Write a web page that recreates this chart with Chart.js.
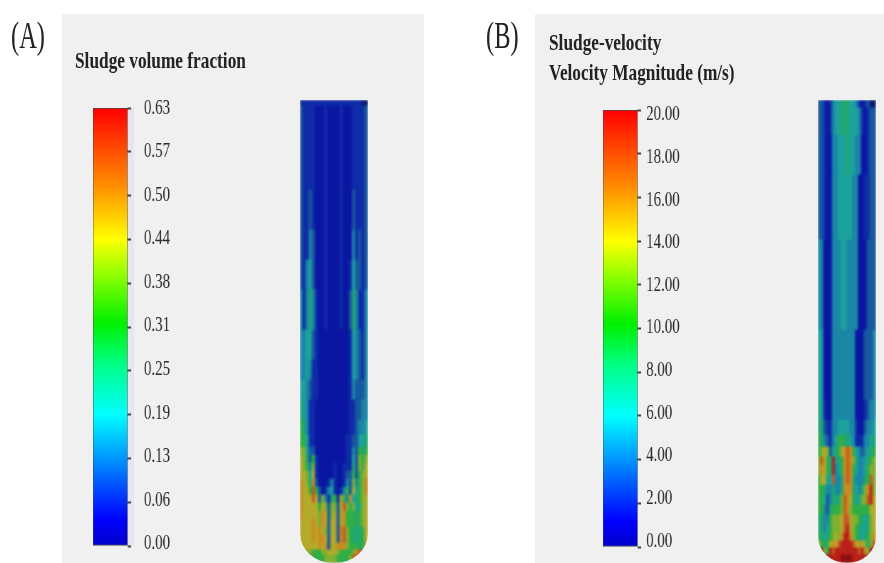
<!DOCTYPE html>
<html>
<head>
<meta charset="utf-8">
<style>
  html, body { margin: 0; background: #fff; overflow: hidden; }
  body { position: relative; width: 884px; height: 563px; }
  .panel { position: absolute; top: 14px; height: 549px; background: #f0f0f0; }
  .lab {
    position: absolute; white-space: nowrap; color: #222; line-height: 1;
    font-family: 'Liberation Serif', serif; transform-origin: 0 0; filter: blur(.35px);
  }
  .lab.b { font-weight: bold; }
  .bar-box { position: absolute; top: 90px; height: 480px; transform-origin: 0 0; transform: scaleX(.71); filter: blur(.35px); }
  .tube { position: absolute; top: 100px; height: 463px; overflow: hidden; border-radius: 0 0 33px 33px / 0 0 30px 30px; }
  .tube canvas { filter: blur(1.3px); }
  .shade { position: absolute; left: 128px; top: 108px; width: 6px; height: 438px; background: #e4e6f1; }
</style>
</head>
<body>
<div class="panel" style="left:62px;width:362px"></div>
<div class="panel" style="left:535px;width:349px"></div>
<div class="shade"></div>

<div class="lab" style="left:11px;top:17px;font-size:37px;transform:scaleX(.66)">(A)</div>
<div class="lab" style="left:486px;top:17px;font-size:37px;transform:scaleX(.66)">(B)</div>
<div class="lab b" style="left:75px;top:48px;font-size:24px;transform:scaleX(.72)">Sludge volume fraction</div>
<div class="lab b" style="left:549px;top:30px;font-size:24px;transform:scaleX(.72)">Sludge-velocity</div>
<div class="lab b" style="left:549px;top:60px;font-size:24px;transform:scaleX(.72)">Velocity Magnitude (m/s)</div>

<div class="bar-box" style="left:90px;width:141px"><canvas id="bar-a"></canvas></div>
<div class="bar-box" style="left:600px;width:141px"><canvas id="bar-b"></canvas></div>
<div class="tube" style="left:300px;width:68px"><canvas id="tube-a"></canvas></div>
<div class="tube" style="left:818px;width:58px"><canvas id="tube-b"></canvas></div>

<script src="https://cdn.jsdelivr.net/npm/chart.js@4.4.0/dist/chart.umd.min.js"></script>
<script>
/* ── Colour bar values ───────────────────────────────────────── */
const RANGE_A = [0, 0.63];
const TICKS_A = [0, 0.063, 0.126, 0.189, 0.252, 0.315, 0.378, 0.441, 0.504, 0.567, 0.63];
const LABELS_A = ['0.00', '0.06', '0.13', '0.19', '0.25', '0.31', '0.38', '0.44', '0.50', '0.57', '0.63'];

const RANGE_B = [0, 20];
const TICKS_B = [0, 2, 4, 6, 8, 10, 12, 14, 16, 18, 20];
const LABELS_B = ['0.00', '2.00', '4.00', '6.00', '8.00', '10.00', '12.00', '14.00', '16.00', '18.00', '20.00'];

/* the printed labels sit on a slightly tighter span than the tick marks */
const LABEL_SPAN_A = [-0.003, 0.63];
const LABEL_SPAN_B = [-0.28, 20.23];

const BAR_STOPS = [
  [0, '#0000c8'], [0.06, '#0000ff'], [0.3, '#00ffff'], [0.42, '#00ff80'], [0.51, '#00f000'],
  [0.62, '#90ff00'], [0.7, '#ffff00'], [0.82, '#ff9000'], [1, '#ff0000'],
];

/* ── Contour levels (one character per cell, key into LEVEL_COLORS) ── */
const LEVEL_COLORS = {
  0: '#0a16a2', 1: '#0f2ca8', 2: '#17589f', 3: '#1b86a6', 4: '#1ca29c', 5: '#20a670', 6: '#2fae45',
  7: '#7fb032', 8: '#b4aa2a', 9: '#cc8a22', a: '#c45a20', b: '#b8201a', c: '#8e1010', d: '#0a1a70',
};

/* cell edges, height above the tube bottom */
const EDGES_A = [463, 457, 373, 333, 303, 273, 233, 203, 183, 163, 143, 128, 116, 108, 100, 92, 84, 76, 68, 60, 52, 44, 36, 28, 20, 13, 8, 0];
const ROWS_A = [
  '11111111111111111111dd',
  '2111100010000100011112',
  '2112100010000100021112',
  '2113200010000100031212',
  '2134200010000100142212',
  '3135310010000100253113',
  '3344210000000000143213',
  '3343110000000000143213',
  '4432110000000000132223',
  '5431100000000000112233',
  '6531100000000000112334',
  '6641100000000001122445',
  '7742200000000001132656',
  '8752610000000001142767',
  '8763710000010011152768',
  '8874810000010012262678',
  '9875920001310013273679',
  '9886a62013410136284679',
  '9888a82731561863945678',
  '9888886872772' + '8a767457' + '8',
  '9888887982782' + '89666567' + '8',
  '8888987982882' + '89666567' + '8',
  '8888989872882' + '9a765556' + '8',
  '8888989982882' + '9a765556' + '8',
  '9888889892889' + '99766656' + '9',
  'a977666778887666679aaa',
  'aaaa6666777766667aaaaa',
];

const EDGES_B = [463, 455, 428, 388, 323, 233, 163, 143, 128, 116, 106, 98, 88, 78, 68, 58, 48, 38, 30, 22, 15, 8, 0];
const ROWS_B = [
  '221013445554431012dd',
  '22101344555444310122',
  '22100334445443300122',
  '22100334444433001122',
  '33000333443333000222',
  '44000333333330002223',
  '54100333333330001233',
  '55211334444331002334',
  '65321346655431113345',
  '6787245689a964323456',
  '7a865b4569a975334567',
  '79865b3469a964334677',
  '68844a3359a9533356a7',
  '665335335999543579b7',
  '664235557a9855477ab8',
  '663256667a9766666688',
  '553367778aa877654578',
  '553467778ab876544578',
  '654567879bb976545679',
  '8656898abbbba898757a',
  'cb76babbbbbbbbab97bc',
  'cccbbbbbccccbbbbbccc',
];

/* ── Colour bar chart ────────────────────────────────────────── */
function renderBar(id, range, ticks, labels, span, padTop, padBottom, labelPad) {
  new Chart(document.getElementById(id), {
    type: 'bar',
    data: {
      labels: [''],
      datasets: [{
        data: [range],
        yAxisID: 'y',
        barPercentage: 1,
        categoryPercentage: 1,
        borderColor: '#4a4a4a',
        borderWidth: 1,
        borderSkipped: false,
        backgroundColor: ctx => {
          const area = ctx.chart.chartArea;
          if (!area) return '#0000ff';
          const g = ctx.chart.ctx.createLinearGradient(0, area.bottom, 0, area.top);
          BAR_STOPS.forEach(([p, c]) => g.addColorStop(p, c));
          return g;
        },
      }],
    },
    options: {
      responsive: true,
      maintainAspectRatio: false,
      animation: false,
      layout: { padding: { left: 4, top: padTop, bottom: padBottom, right: 0 } },
      plugins: { legend: { display: false }, tooltip: { enabled: false } },
      scales: {
        x: { display: false },
        y: {
          position: 'right',
          bounds: 'data',
          min: range[0],
          max: range[1],
          afterBuildTicks: s => { s.ticks = ticks.map(v => ({ value: v })); },
          afterFit: s => { s.width = 5; s.paddingTop = 0; s.paddingBottom = 0; },
          border: { display: false },
          grid: { drawOnChartArea: false, drawTicks: true, tickLength: 5, color: '#444', tickWidth: 2 },
          ticks: { display: false },
        },
        y2: {
          position: 'right',
          bounds: 'data',
          min: span[0],
          max: span[1],
          afterBuildTicks: s => { s.ticks = ticks.map(v => ({ value: v })); },
          afterFit: s => { s.width = 83; s.paddingTop = 0; s.paddingBottom = 0; },
          border: { display: false },
          grid: { display: false, drawTicks: false },
          ticks: {
            autoSkip: false,
            padding: labelPad,
            color: '#2b2b2b',
            font: { family: "'Liberation Serif', serif", size: 21 },
            callback: (v, i) => labels[i],
          },
        },
      },
    },
  });
}

/* ── Contour tube chart ──────────────────────────────────────── */
function renderTube(id, edges, rows, thickness) {
  const cols = rows[0].length;
  const cells = [];
  const colors = [];
  rows.forEach((row, r) => {
    [...row].forEach((ch, c) => {
      cells.push({ x: c, y: [edges[r + 1], edges[r]] });
      colors.push(LEVEL_COLORS[ch]);
    });
  });

  new Chart(document.getElementById(id), {
    type: 'bar',
    data: { datasets: [{ data: cells, backgroundColor: colors, borderWidth: 0, barThickness: thickness }] },
    options: {
      responsive: true,
      maintainAspectRatio: false,
      animation: false,
      plugins: { legend: { display: false }, tooltip: { enabled: false } },
      scales: {
        x: { type: 'linear', display: false, offset: false, min: -0.5, max: cols - 0.5 },
        y: { display: false, min: 0, max: 463 },
      },
    },
  });
}

/* ── Boot ───────────────────────────────────────────────────── */
renderBar('bar-a', RANGE_A, TICKS_A, LABELS_A, LABEL_SPAN_A, 18, 24, 18);
renderBar('bar-b', RANGE_B, TICKS_B, LABELS_B, LABEL_SPAN_B, 20, 23, 7);
renderTube('tube-a', EDGES_A, ROWS_A, 3.6);
renderTube('tube-b', EDGES_B, ROWS_B, 3.5);
</script>
</body>
</html>
